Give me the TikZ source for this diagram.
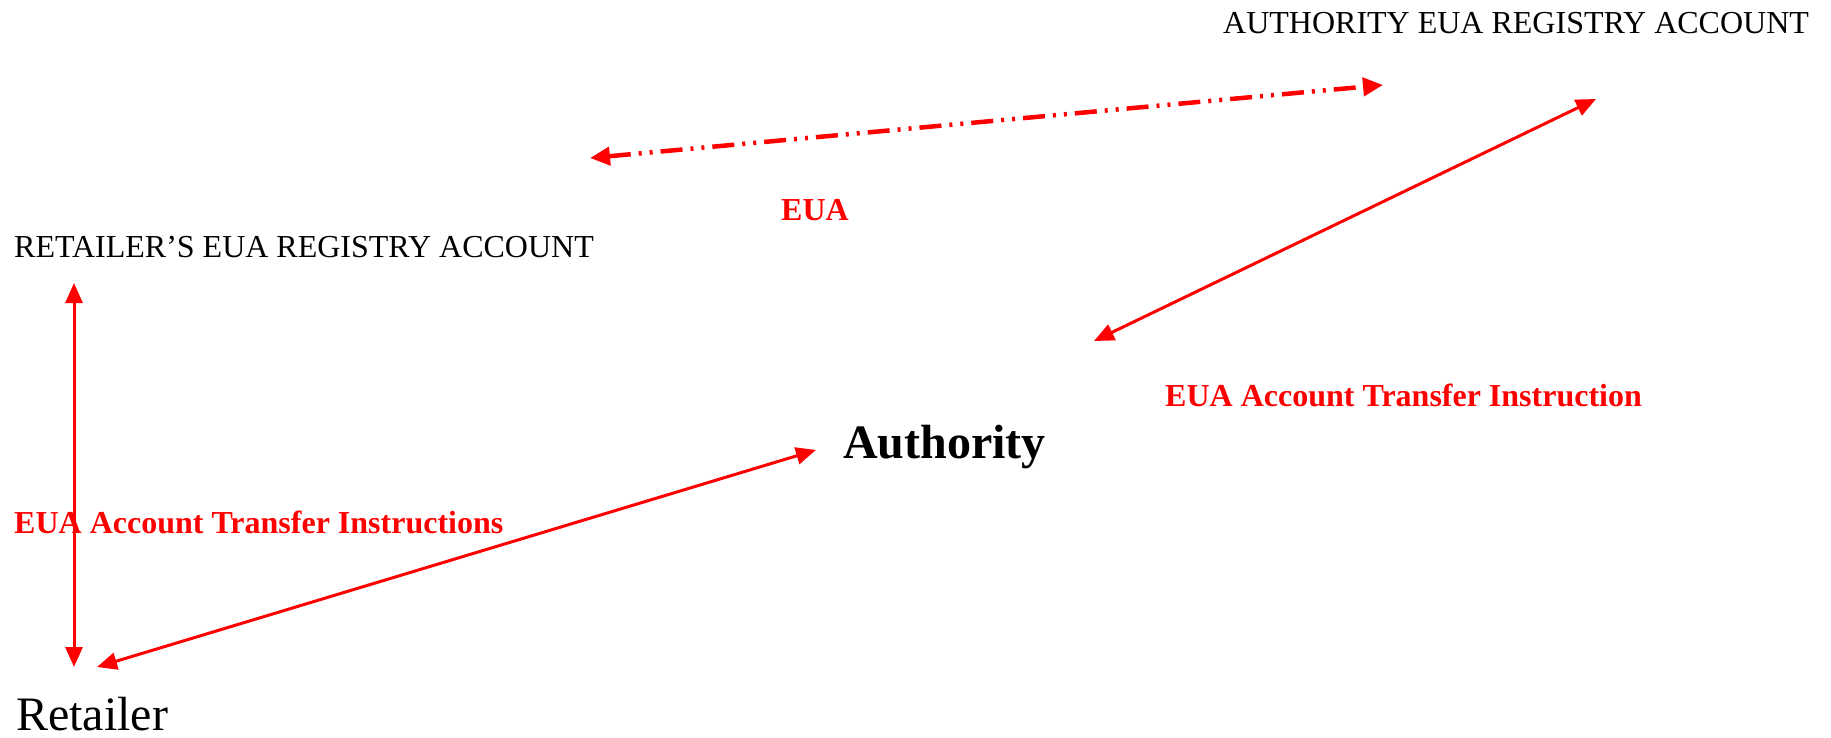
\documentclass[tikz,border=0pt]{standalone}
\usepackage{fontspec}
\setmainfont{Liberation Serif}
\usetikzlibrary{arrows.meta}
\begin{document}
\begin{tikzpicture}[x=1pt,y=-1pt,
  lbl/.style={anchor=base west,inner sep=0pt,font=\fontsize{32}{38}\selectfont},
  redlbl/.style={anchor=base west,inner sep=0pt,text=red,font=\fontsize{32}{38}\selectfont\bfseries},
  biglbl/.style={anchor=base west,inner sep=0pt,text depth=0pt,font=\fontsize{48}{56}\selectfont},
  conn/.style={red,line width=3pt,{Triangle[length=20pt,width=17pt]}-{Triangle[length=20pt,width=17pt]}},
  dashdot/.style={red,line width=4.5pt,{Triangle[length=20pt,width=18pt]}-{Triangle[length=20pt,width=18pt]},dash pattern=on 22pt off 8pt on 3pt off 8pt on 3pt off 8pt}]
\useasboundingbox (0,0) rectangle (1831,738);
% labels
\node[lbl] (authacct) at (1223,34) {AUTHORITY EUA REGISTRY ACCOUNT};
\node[lbl] (retacct) at (14,257) {RETAILER’S EUA REGISTRY ACCOUNT};
\node[redlbl] (eua) at (781,221) {EUA};
\node[redlbl] (instr) at (1165,406) {EUA Account Transfer Instruction};
\node[redlbl] (instrs) at (14,533) {EUA Account Transfer Instructions};
\node[biglbl,font=\fontsize{48}{56}\selectfont\bfseries] (auth) at (843,458) {Authority};
\node[biglbl] (ret) at (16,730) {Retailer};
% connector ends
\coordinate (dL) at (590,158);
\coordinate (dR) at (1383,85);
\coordinate (aTop) at (1596,99);
\coordinate (aBot) at (1094,341);
\coordinate (vTop) at (74,283);
\coordinate (vBot) at (74,667);
\coordinate (rEnd) at (97,667);
\coordinate (auEnd) at (816,450);
% connectors
\draw[dashdot] (dL) -- (dR);
\draw[conn] (aBot) -- (aTop);
\draw[conn] (vTop) -- (vBot);
\draw[conn] (rEnd) -- (auEnd);
\end{tikzpicture}
\end{document}
